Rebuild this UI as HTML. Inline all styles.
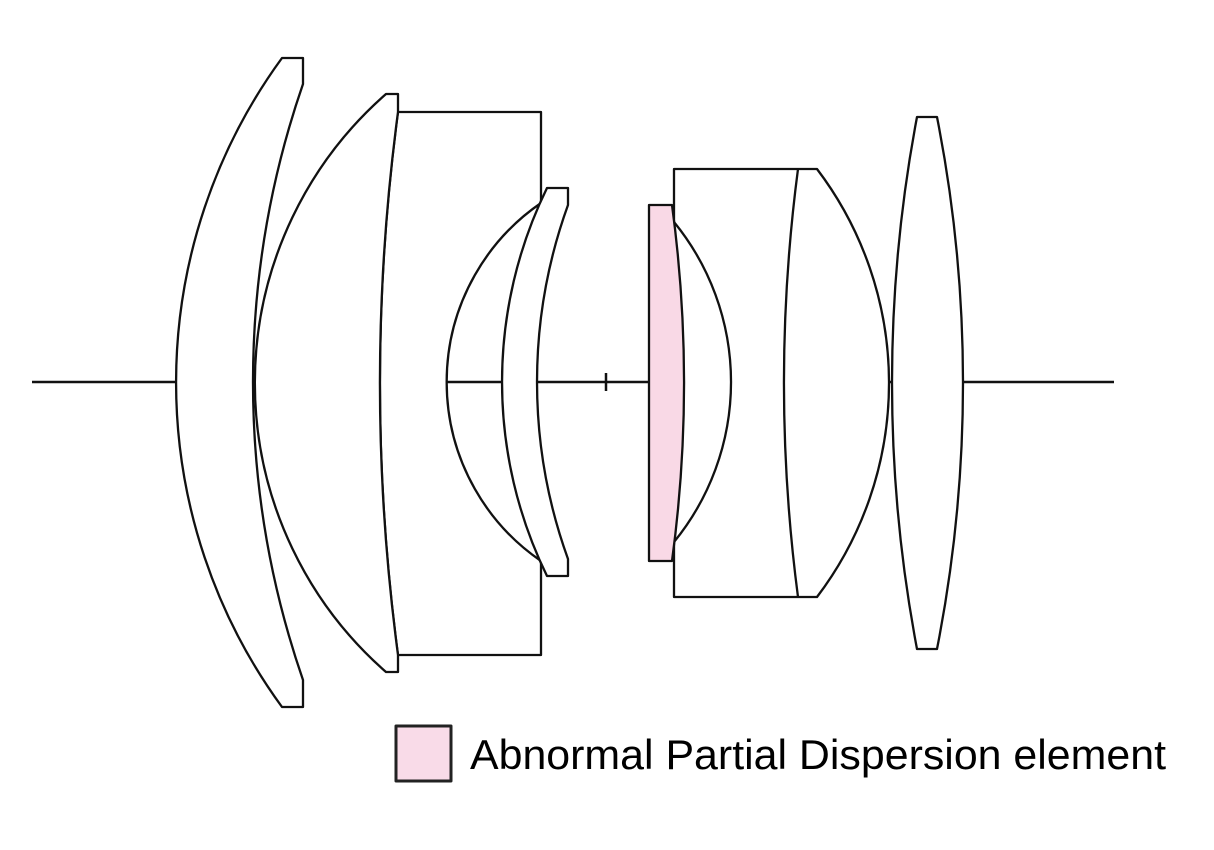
<!DOCTYPE html>
<html><head><style>html,body{margin:0;padding:0;background:#fff}svg{display:block}</style></head>
<body>
<svg width="1214" height="850" viewBox="0 0 1214 850" xmlns="http://www.w3.org/2000/svg">
<g stroke="#111" stroke-width="2.3" stroke-linejoin="round">
<line x1="32" y1="382" x2="1114" y2="382" stroke-width="2.5"/>
<line x1="606" y1="373" x2="606" y2="391" stroke-width="2.5"/>
<path d="M282,58 L303,58 L303,84 A913,913 0 0 0 303,680 L303,707 L282,707 A550,550 0 0 1 282,58 Z" fill="#fff"/>
<path d="M398,112 L541,112 L541,203 A217,217 0 0 0 541,561 L541,655 L398,655 A2057,2057 0 0 1 398,112 Z" fill="#fff"/>
<path d="M386,94 L398,94 L398,112 A2057,2057 0 0 0 398,655 L398,672 L386,672 A384,384 0 0 1 386,94 Z" fill="#fff"/>
<path d="M547,188 L568,188 L568,205 A521,521 0 0 0 568,559 L568,576 L547,576 A441,441 0 0 1 547,188 Z" fill="#fff"/>
<path d="M674,169 L817,169 A354,354 0 0 1 817,597 L674,597 Z" fill="#fff"/>
<path d="M798,169 A1643,1643 0 0 0 798,597" fill="none"/>
<path d="M674,222 A253,253 0 0 1 674,542" fill="#fff"/>
<path d="M649,205 L672,205 A1326,1326 0 0 1 672,561 L649,561 Z" fill="#f9d9e6"/>
<path d="M917,117 L937,117 A1374,1374 0 0 1 937,649 L917,649 A1428,1428 0 0 1 917,117 Z" fill="#fff"/>
<rect x="396" y="726" width="55" height="55" fill="#f9dbe8" stroke="#222" stroke-width="3"/>
</g>
<text x="470" y="769" font-family="Liberation Sans, sans-serif" font-size="42" fill="#000" textLength="696" lengthAdjust="spacingAndGlyphs">Abnormal Partial Dispersion element</text>
</svg>
</body></html>
